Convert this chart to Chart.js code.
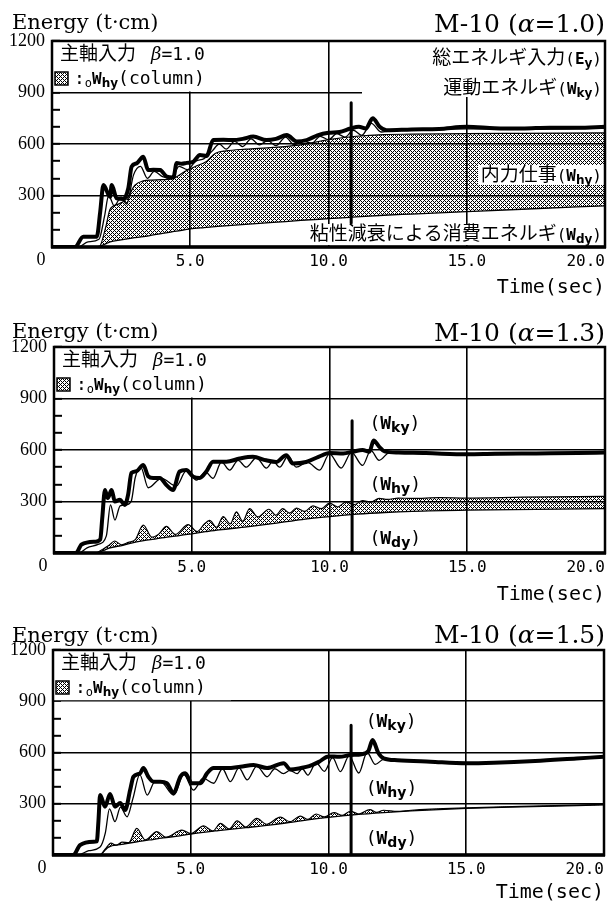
<!DOCTYPE html>
<html>
<head>
<meta charset="utf-8">
<script src="https://cdn.jsdelivr.net/npm/chart.js@4.4.1/dist/chart.umd.min.js"></script>
<style>
  html, body { margin: 0; padding: 0; background: #fff; overflow: hidden; }
  canvas { position: absolute; left: 0; }
</style>
</head>
<body>
<canvas id="c1" width="609" height="300" style="top:0px"></canvas>
<canvas id="c2" width="609" height="307" style="top:300px"></canvas>
<canvas id="c3" width="609" height="298" style="top:607px"></canvas>
<script>
// tick labels
const xTickLabels = ['5.0', '10.0', '15.0', '20.0'];
const yTickLabels = ['300', '600', '900', '1200'];
const alphas = ['1.0', '1.3', '1.5'];

// ---- M-10 (alpha=1.0) ----
const ey1T = [0, 0.83, 1.13, 1.62, 1.74, 1.86, 2.1, 2.16, 2.34, 2.58, 2.76, 2.88, 3.06, 3.3, 3.48, 3.66, 3.91, 4.15, 4.39, 4.51, 4.69, 4.87, 5.11, 5.35, 5.59, 5.83, 6.2, 6.56, 6.9, 7.28, 7.76, 8.1, 8.49, 8.85, 9.21, 9.6, 10.0, 10.4, 10.8, 11.1, 11.35, 11.6, 11.85, 12.1, 13, 14, 15, 16, 17, 18, 19, 20];
const ey1  = [0, 0, 60, 60, 200, 361, 293, 361, 283, 280, 342, 468, 487, 526, 448, 450, 448, 410, 405, 490, 485, 490, 497, 536, 530, 623, 625, 623, 630, 643, 623, 630, 652, 615, 623, 650, 665, 670, 690, 700, 690, 750, 700, 680, 685, 688, 700, 692, 690, 695, 695, 700];
const thin1T = [0, 0.95, 1.3, 1.7, 1.9, 2.05, 2.25, 2.5, 2.7, 2.95, 3.2, 3.45, 3.7, 4.0, 4.3, 4.6, 4.9, 5.2, 5.5, 5.8, 6.05, 6.3, 6.6, 6.9, 7.2, 7.5, 7.8, 8.1, 8.45, 8.75, 9.1, 9.4, 9.7, 10.0, 10.3, 10.6, 10.9, 11.2, 11.55, 11.9, 12.3, 13, 15, 17, 20];
const thin1  = [0, 0, 30, 45, 180, 300, 240, 290, 250, 420, 470, 400, 440, 410, 400, 470, 450, 500, 515, 560, 600, 570, 615, 585, 630, 595, 620, 590, 640, 595, 615, 605, 645, 625, 660, 640, 680, 650, 720, 670, 678, 680, 688, 686, 692];
const wdy1T = [0, 1.6, 1.9, 2.1, 2.5, 3, 3.5, 4, 4.5, 5, 5.5, 6, 7, 8, 9, 10, 11, 12, 13, 15, 17, 20];
const wdy1  = [0, 0, 15, 30, 42, 55, 65, 80, 92, 105, 113, 120, 132, 143, 155, 165, 175, 185, 192, 206, 220, 240];
const wh1T = [0, 1.7, 1.95, 2.1, 2.4, 2.7, 3.0, 3.3, 3.6, 4.0, 4.4, 4.8, 5.2, 5.6, 5.9, 6.3, 7, 8, 9, 10, 11, 12, 13, 15, 17, 20];
const wh1  = [0, 0, 120, 220, 250, 280, 360, 385, 390, 392, 400, 440, 470, 500, 545, 560, 570, 580, 595, 625, 645, 655, 657, 660, 662, 665];
const mark1 = [840, 140];

// ---- M-10 (alpha=1.3) ----
const ey2T = [0, 0.8, 1.0, 1.5, 1.68, 1.75, 1.85, 1.95, 2.09, 2.21, 2.39, 2.57, 2.69, 2.81, 2.99, 3.24, 3.42, 3.6, 3.84, 4.08, 4.32, 4.56, 4.8, 5.05, 5.29, 5.53, 5.77, 6.26, 6.74, 7.22, 7.7, 8.06, 8.43, 8.67, 9.15, 9.6, 10.0, 10.5, 10.85, 11.2, 11.45, 11.6, 11.8, 12.0, 12.5, 13.5, 15, 16, 17.5, 19, 20];
const ey2  = [0, 0, 50, 66, 80, 200, 367, 320, 367, 300, 310, 280, 340, 466, 476, 513, 447, 437, 437, 396, 367, 475, 483, 445, 437, 475, 532, 532, 550, 560, 540, 530, 570, 521, 530, 560, 582, 580, 590, 600, 590, 655, 620, 592, 585, 582, 575, 578, 580, 582, 585];
const thin2T = [0, 0.9, 1.2, 1.6, 1.9, 2.05, 2.21, 2.4, 2.6, 2.8, 2.95, 3.15, 3.42, 3.9, 4.44, 4.8, 5.17, 5.5, 5.77, 6.08, 6.38, 6.68, 6.98, 7.35, 7.71, 7.95, 8.19, 8.5, 8.79, 9.2, 9.64, 10.0, 10.42, 10.8, 11.2, 11.5, 11.8, 12.2, 13, 15, 20];
const thin2  = [0, 0, 30, 50, 100, 280, 192, 275, 280, 300, 440, 500, 380, 435, 390, 478, 425, 472, 435, 530, 483, 540, 500, 555, 494, 535, 500, 565, 500, 528, 483, 578, 495, 586, 510, 598, 540, 588, 580, 573, 584];
const wdy2T = [0, 1.5, 1.8, 2.0, 2.5, 3.0, 3.5, 4.0, 4.5, 5.0, 5.5, 6.0, 7.0, 8.0, 9.0, 10.0, 11.0, 12.0, 13.0, 15.0, 20.0];
const wdy2  = [0, 0, 15, 29, 45, 65, 78, 90, 100, 112, 124, 135, 152, 172, 195, 212, 226, 236, 243, 250, 258];
const wh2T = [0, 1.5, 1.8, 2.0, 2.2, 2.45, 2.7, 2.95, 3.24, 3.55, 3.8, 4.08, 4.4, 4.87, 5.2, 5.45, 5.65, 5.9, 6.14, 6.4, 6.62, 6.85, 7.1, 7.4, 7.8, 8.05, 8.3, 8.55, 8.8, 9.1, 9.4, 9.7, 10.0, 10.3, 10.6, 10.9, 11.2, 11.5, 11.8, 12.1, 12.5, 13, 14, 15, 17, 20];
const wh2  = [0, 0, 25, 45, 70, 48, 62, 78, 163, 92, 110, 155, 108, 165, 125, 168, 190, 150, 212, 170, 240, 185, 258, 210, 255, 220, 258, 232, 262, 242, 275, 258, 290, 268, 298, 282, 305, 296, 318, 312, 320, 318, 322, 320, 325, 330];
const mark2 = [770, 0];

// ---- M-10 (alpha=1.5) ----
const ey3T = [0, 0.74, 0.98, 1.47, 1.59, 1.65, 1.71, 1.89, 2.07, 2.25, 2.44, 2.62, 2.8, 2.92, 3.16, 3.28, 3.46, 3.65, 3.89, 4.13, 4.38, 4.62, 4.8, 5.04, 5.35, 5.59, 5.83, 6.32, 6.8, 7.28, 7.77, 8.37, 8.62, 9.0, 9.3, 9.65, 10.0, 10.4, 10.8, 11.2, 11.45, 11.6, 11.8, 12.0, 12.5, 13.7, 15, 16, 17.5, 19, 20];
const ey3  = [0, 0, 58, 78, 80, 200, 351, 283, 357, 283, 304, 263, 380, 458, 478, 509, 458, 429, 429, 420, 363, 458, 478, 420, 420, 478, 509, 509, 517, 527, 509, 537, 500, 509, 520, 545, 577, 575, 585, 590, 610, 673, 600, 566, 555, 546, 537, 540, 550, 565, 575];
const thin3T = [0, 0.9, 1.3, 1.7, 1.9, 2.05, 2.25, 2.45, 2.69, 2.9, 3.15, 3.42, 3.7, 3.95, 4.38, 4.75, 5.1, 5.45, 5.83, 6.15, 6.44, 6.75, 7.05, 7.4, 7.77, 8.05, 8.37, 8.6, 8.86, 9.05, 9.25, 9.55, 9.85, 10.15, 10.43, 10.75, 11.1, 11.4, 11.7, 12.0, 12.5, 13.5, 15, 17.5, 20];
const thin3  = [0, 0, 25, 45, 130, 270, 195, 280, 224, 330, 470, 351, 430, 425, 351, 470, 380, 450, 420, 505, 430, 510, 440, 520, 458, 505, 476, 495, 476, 505, 468, 540, 490, 570, 488, 580, 480, 600, 530, 560, 555, 546, 537, 550, 575];
const wdy3T = [0, 1.7, 1.9, 2.0, 2.5, 3.0, 3.5, 4.0, 4.6, 5.0, 6.0, 7.0, 8.0, 9.0, 10.0, 11.0, 12.0, 13.0, 15.0, 17.0, 20.0];
const wdy3  = [0, 0, 30, 45, 62, 76, 88, 100, 112, 123, 143, 160, 178, 200, 220, 236, 248, 258, 273, 282, 293];
const wh3T = [0, 1.7, 1.9, 2.1, 2.3, 2.5, 2.75, 3.04, 3.35, 3.77, 4.1, 4.68, 5.0, 5.47, 5.8, 6.08, 6.4, 6.68, 7.0, 7.4, 7.75, 8.25, 8.6, 8.98, 9.25, 9.55, 9.85, 10.2, 10.5, 10.8, 11.1, 11.5, 11.75, 12.0, 12.5, 13, 15, 17, 20];
const wh3  = [0, 0, 35, 70, 57, 75, 72, 156, 88, 137, 104, 146, 125, 170, 140, 185, 152, 200, 164, 214, 180, 222, 195, 228, 208, 240, 223, 248, 232, 256, 240, 266, 250, 262, 255, 262, 276, 285, 296];
const mark3 = [760, 0];

const markT = 10.82;

// fonts
const F = {
  jp: '19px "Noto Sans CJK JP"',
  mono: '16px "DejaVu Sans Mono"',
  monoL: '18px "DejaVu Sans Mono"',
  bW: 'bold 16px "DejaVu Sans Mono"',
  bWL: 'bold 18px "DejaVu Sans Mono"',
  sub: 'bold 12px "DejaVu Sans"',
  subL: 'bold 14px "DejaVu Sans"',
  small: '12px "DejaVu Sans Mono"',
  serif: '21px "DejaVu Serif"',
  big: '25px "DejaVu Serif"',
  bigI: 'italic 25px "DejaVu Serif"',
  betaI: 'italic 18px "DejaVu Serif"'
};

// hatch pattern
const tile = document.createElement('canvas');
tile.width = 4; tile.height = 4;
const tctx = tile.getContext('2d');
tctx.fillStyle = '#000';
[[0, 0], [1, 1], [2, 2], [3, 3], [1, 3], [3, 1]].forEach(([a, b]) => tctx.fillRect(a, b, 1, 1));
const hatch = tctx.createPattern(tile, 'repeat');

function pts(ts, vs) {
  return ts.map((t, i) => ({ x: t, y: vs[i] }));
}

function runs(ctx, parts, x, y, align) {
  let w = 0;
  parts.forEach(p => { ctx.font = p[1]; w += ctx.measureText(p[0]).width; });
  let cx = align === 'right' ? x - w : x;
  ctx.textAlign = 'left';
  ctx.textBaseline = 'alphabetic';
  parts.forEach(p => {
    ctx.font = p[1];
    ctx.fillText(p[0], cx, y + (p[2] || 0));
    cx += ctx.measureText(p[0]).width;
  });
}

const wSmall = (main, sub) => [['(', F.mono], [main, F.bW], [sub, F.sub, 3], [')', F.mono]];
const wLarge = (main, sub) => [['(', F.monoL], [main, F.bWL], [sub, F.subL, 3], [')', F.monoL]];

// decoration layout per panel
const panels = [
  {
    id: 'c1', H: 300, top: 41, bottom: 247, left: 52, right: 605, energyY: 29, titleY: 32,
    series: [wdy1T, wdy1, wh1T, wh1, thin1T, thin1, ey1T, ey1, mark1],
    boxes: [[362, 42, 604, 97], [478, 165, 604, 185], [311, 224, 604, 245]],
    texts: [
      { x: 602, y: 64, align: 'right', parts: [['総エネルギ入力', F.jp]].concat(wSmall('E', 'y')) },
      { x: 602, y: 94, align: 'right', parts: [['運動エネルギ', F.jp]].concat(wSmall('W', 'ky')) },
      { x: 602, y: 181, align: 'right', parts: [['内力仕事', F.jp]].concat(wSmall('W', 'hy')) },
      { x: 602, y: 240, align: 'right', parts: [['粘性減衰による消費エネルギ', F.jp]].concat(wSmall('W', 'dy')) }
    ]
  },
  {
    id: 'c2', H: 307, top: 47, bottom: 253, left: 54, right: 605, energyY: 38, titleY: 41,
    series: [wdy2T, wdy2, wh2T, wh2, thin2T, thin2, ey2T, ey2, mark2],
    boxes: [],
    texts: [
      { t: 11.45, v: 722, parts: wLarge('W', 'ky') },
      { t: 11.45, v: 367, parts: wLarge('W', 'hy') },
      { t: 11.45, v: 52, parts: wLarge('W', 'dy') }
    ]
  },
  {
    id: 'c3', H: 298, top: 43, bottom: 248, left: 53, right: 604, energyY: 35, titleY: 36,
    series: [wdy3T, wdy3, wh3T, wh3, thin3T, thin3, ey3T, ey3, mark3],
    boxes: [],
    texts: [
      { t: 11.35, v: 749, parts: wLarge('W', 'ky') },
      { t: 11.35, v: 357, parts: wLarge('W', 'hy') },
      { t: 11.35, v: 64, parts: wLarge('W', 'dy') }
    ]
  }
];

function deco(p, alpha) {
  return {
    id: 'deco',
    afterDraw(chart) {
      const ctx = chart.ctx, a = chart.chartArea;
      const xs = chart.scales.x, ys = chart.scales.y;
      ctx.save();
      ctx.fillStyle = '#fff';
      // legend area at top left
      const y900 = ys.getPixelForValue(900);
      ctx.fillRect(a.left, a.top, 178, y900 - a.top - 1);
      p.boxes.forEach(b => ctx.fillRect(b[0], b[1], b[2] - b[0], b[3] - b[1]));

      // frame
      ctx.strokeStyle = '#000';
      ctx.lineWidth = 2.5;
      ctx.strokeRect(a.left, a.top, a.right - a.left, a.bottom - a.top);
      ctx.lineWidth = 3.5;
      ctx.beginPath();
      ctx.moveTo(a.left - 1, a.bottom);
      ctx.lineTo(a.right + 1, a.bottom);
      ctx.stroke();

      ctx.fillStyle = '#000';
      // headings
      runs(ctx, [['Energy (t·cm)', F.serif]], 12, p.energyY, 'left');
      runs(ctx, [['M-10 (', F.big], ['α', F.bigI], ['=' + alpha + ')', F.big]], 605, p.titleY, 'right');

      // zero label
      ctx.font = '18px "Liberation Serif"';
      ctx.textAlign = 'center';
      ctx.textBaseline = 'middle';
      ctx.fillText('0', a.left - 11, a.bottom + 13);

      // legend
      runs(ctx, [['主軸入力', F.jp]], a.left + 8, a.top + 19, 'left');
      runs(ctx, [['β', F.betaI], ['=1.0', F.monoL]], a.left + 99, a.top + 19, 'left');
      const sx = a.left + 3, sy = a.top + 31;
      ctx.fillStyle = hatch;
      ctx.fillRect(sx, sy, 13, 13);
      ctx.lineWidth = 1.5;
      ctx.strokeRect(sx, sy, 13, 13);
      ctx.fillStyle = '#000';
      runs(ctx, [[':', F.monoL], ['o', F.small, 3], ['W', F.bW], ['hy', F.sub, 3], ['(column)', F.monoL]], a.left + 22, a.top + 43, 'left');

      // curve labels
      p.texts.forEach(tx => {
        const x = tx.t !== undefined ? xs.getPixelForValue(tx.t) : tx.x;
        const y = tx.v !== undefined ? ys.getPixelForValue(tx.v) : tx.y;
        runs(ctx, tx.parts, x, y, tx.align || 'left');
      });
      ctx.restore();
    }
  };
}

panels.forEach((p, i) => {
  const s = p.series;
  new Chart(document.getElementById(p.id), {
    type: 'line',
    data: {
      datasets: [
        { data: pts(s[0], s[1]), borderColor: '#000', borderWidth: 1.3, fill: false },
        { data: pts(s[2], s[3]), borderColor: '#000', borderWidth: 1.2, backgroundColor: hatch, fill: '-1' },
        { data: pts(s[4], s[5]), borderColor: '#000', borderWidth: 1.3, fill: false },
        { data: pts(s[6], s[7]), borderColor: '#000', borderWidth: 4, fill: false },
        { data: pts([markT, markT], s[8]), borderColor: '#000', borderWidth: 3, fill: false, cubicInterpolationMode: 'default', tension: 0 }
      ]
    },
    options: {
      responsive: false,
      animation: false,
      devicePixelRatio: 1,
      events: [],
      layout: { padding: { top: p.top, right: 609 - p.right, left: 0, bottom: 0 } },
      elements: {
        point: { radius: 0 },
        line: { cubicInterpolationMode: 'monotone', borderCapStyle: 'round', borderJoinStyle: 'round' }
      },
      plugins: { legend: { display: false }, tooltip: { enabled: false }, title: { display: false } },
      scales: {
        x: {
          type: 'linear', min: 0, max: 20,
          afterFit: sc => { sc.height = p.H - p.bottom; sc.paddingLeft = 0; sc.paddingRight = 0; },
          border: { display: false },
          grid: {
            color: c => (c.tick && c.tick.value > 0 && c.tick.value < 20) ? '#000' : 'rgba(0,0,0,0)',
            lineWidth: 1.6, drawTicks: false
          },
          ticks: {
            stepSize: 5, align: 'inner', padding: 5, autoSkip: false, maxRotation: 0, color: '#000',
            font: { family: 'DejaVu Sans Mono', size: 16 },
            callback: v => xTickLabels.find(l => parseFloat(l) === v) || ''
          },
          title: {
            display: true, text: 'Time(sec)', align: 'end', padding: 0, color: '#000',
            font: { family: 'DejaVu Sans Mono', size: 20 }
          }
        },
        y: {
          min: 0, max: 1200,
          afterFit: sc => { sc.width = p.left; sc.paddingTop = 0; sc.paddingBottom = 0; },
          border: { display: false },
          grid: {
            color: c => (c.tick && c.tick.value % 300 === 0 && c.tick.value > 0 && c.tick.value < 1200) ? '#000' : 'rgba(0,0,0,0)',
            lineWidth: 1.6, drawTicks: true, tickLength: -8, tickWidth: 2, tickColor: '#000'
          },
          ticks: {
            stepSize: 100, autoSkip: false, padding: 15, color: '#000',
            font: { family: 'Liberation Serif', size: 18 },
            callback: v => yTickLabels.find(l => parseFloat(l) === v) || ''
          }
        }
      }
    },
    plugins: [deco(p, alphas[i])]
  });
});
</script>
</body>
</html>
